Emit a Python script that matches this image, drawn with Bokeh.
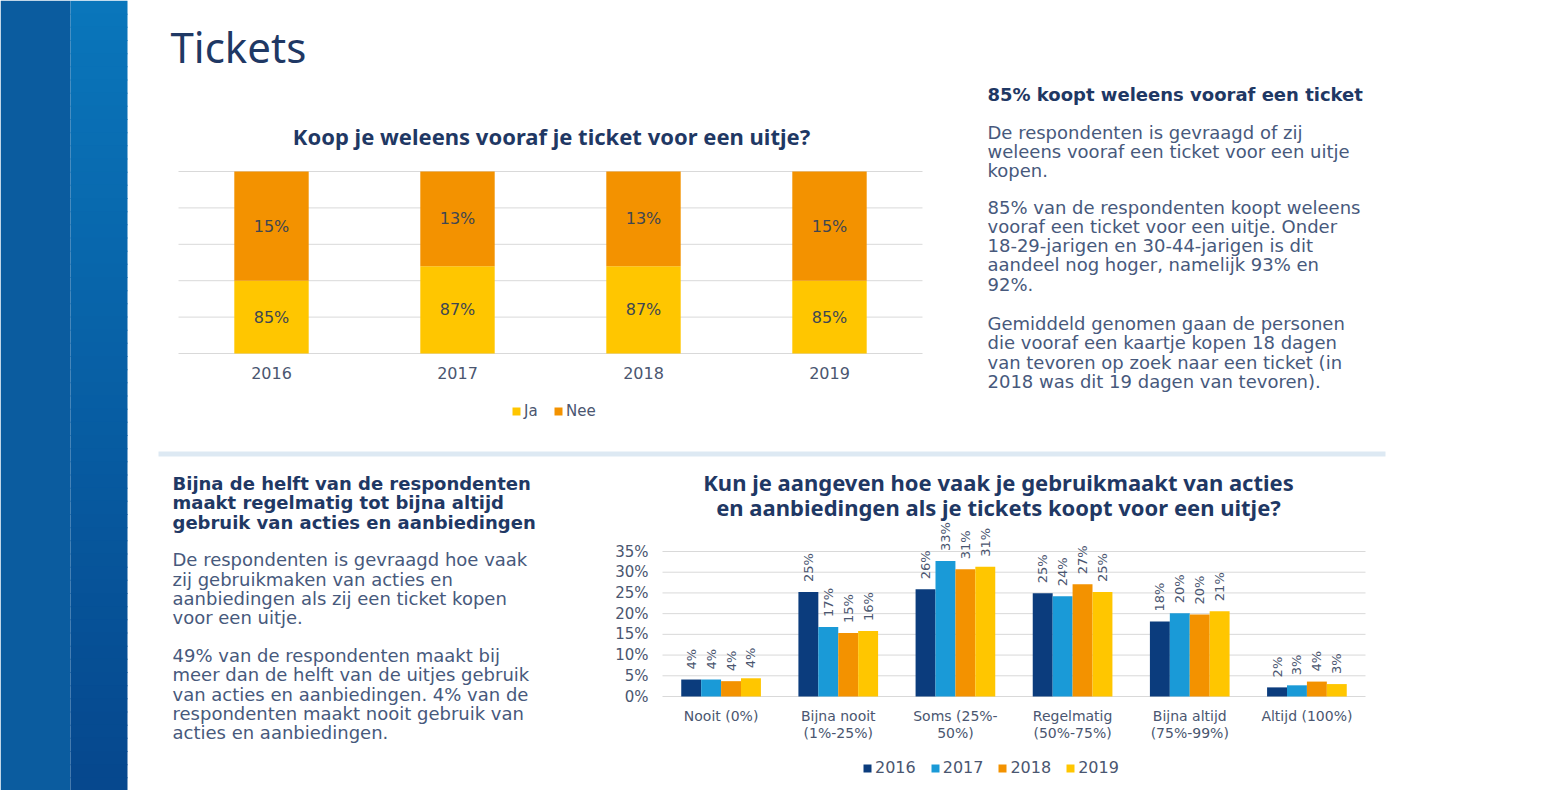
import numpy as np
from bokeh.plotting import figure
from bokeh.models import ColumnDataSource, Range1d, Legend, LegendItem
from bokeh.core.properties import value
from bokeh.embed import file_html
from bokeh.resources import INLINE

# ---------------- data ----------------
years = ["2016", "2017", "2018", "2019"]
ja = [0.85, 0.87, 0.87, 0.85]
nee = [0.15, 0.13, 0.13, 0.15]
top_axis_min, top_axis_max = 0.75, 1.0
top_grid_ticks = [0.75, 0.80, 0.85, 0.90, 0.95, 1.00]

freq_labels = ["Nooit (0%)", "Bijna nooit\n(1%-25%)", "Soms (25%-\n50%)",
               "Regelmatig\n(50%-75%)", "Bijna altijd\n(75%-99%)", "Altijd (100%)"]
share_2016 = [0.041, 0.252, 0.259, 0.249, 0.181, 0.022]
share_2017 = [0.041, 0.168, 0.327, 0.242, 0.201, 0.027]
share_2018 = [0.037, 0.153, 0.307, 0.271, 0.198, 0.036]
share_2019 = [0.044, 0.158, 0.313, 0.252, 0.206, 0.030]
series_names = ["2016", "2017", "2018", "2019"]
bottom_ticks = [0.0, 0.05, 0.10, 0.15, 0.20, 0.25, 0.30, 0.35]

# ---------------- texts ----------------
page_title = "Tickets"
top_chart_title = "Koop je weleens vooraf je ticket voor een uitje?"
bottom_chart_title = ["Kun je aangeven hoe vaak je gebruikmaakt van acties",
                      "en aanbiedingen als je tickets koopt voor een uitje?"]
right_heading = ["85% koopt weleens vooraf een ticket"]
right_paras = [
    ["De respondenten is gevraagd of zij",
     "weleens vooraf een ticket voor een uitje",
     "kopen."],
    ["85% van de respondenten koopt weleens",
     "vooraf een ticket voor een uitje. Onder",
     "18-29-jarigen en 30-44-jarigen is dit",
     "aandeel nog hoger, namelijk 93% en",
     "92%."],
    ["Gemiddeld genomen gaan de personen",
     "die vooraf een kaartje kopen 18 dagen",
     "van tevoren op zoek naar een ticket (in",
     "2018 was dit 19 dagen van tevoren)."],
]
left_heading = ["Bijna de helft van de respondenten",
                "maakt regelmatig tot bijna altijd",
                "gebruik van acties en aanbiedingen"]
left_paras = [
    ["De respondenten is gevraagd hoe vaak",
     "zij gebruikmaken van acties en",
     "aanbiedingen als zij een ticket kopen",
     "voor een uitje."],
    ["49% van de respondenten maakt bij",
     "meer dan de helft van de uitjes gebruik",
     "van acties en aanbiedingen. 4% van de",
     "respondenten maakt nooit gebruik van",
     "acties en aanbiedingen."],
]

# ---------------- style ----------------
NAVY = "#1F3864"
BODY = "#47597C"
TICK = "#4A5670"
GRID = "#D9D9D9"
C_JA = "#FFC600"
C_NEE = "#F39200"
SERIES_COLORS = ["#0B3C7D", "#1A9AD7", "#F39200", "#FFC600"]
BODY_FONT = "DejaVu Sans"
TITLE_FONT = "Noto Sans"
BODY_SIZE = 18
CHART_TITLE_SIZE = "22px"

W, H = 1540, 790


def screen_range(v_a, px_a, v_b, px_b, size, vertical):
    """Range1d so that value v_a falls on pixel px_a and v_b on px_b."""
    k = (px_b - px_a) / (v_b - v_a)

    def v_at(px):
        return v_a + (px - px_a) / k
    if vertical:
        return Range1d(start=v_at(size), end=v_at(0))
    return Range1d(start=v_at(0), end=v_at(size))


p = figure(width=W, height=H, x_range=Range1d(0, W), y_range=Range1d(H, 0),
           x_axis_type=None, y_axis_type=None, min_border=0,
           toolbar_location=None, output_backend="svg")
p.outline_line_color = None
p.background_fill_color = "white"
p.border_fill_color = "white"

n_top = len(years)
n_bot = len(freq_labels)
p.extra_x_ranges = {
    "t_x": screen_range(0, 178, n_top, 922, W, False),
    "b_x": screen_range(0, 662, n_bot, 1365, W, False),
}
p.extra_y_ranges = {
    "t_y": screen_range(top_axis_min, 353, top_axis_max, 171, H, True),
    "b_y": screen_range(bottom_ticks[0], 696, bottom_ticks[-1], 551, H, True),
}
T = dict(x_range_name="t_x", y_range_name="t_y")
B = dict(x_range_name="b_x", y_range_name="b_y")


def put_lines(lines, x, y0, step, size, bold=False, color=BODY, font=BODY_FONT):
    ys = [y0 + i * step for i in range(len(lines))]
    p.text(x=[x] * len(lines), y=ys, text=lines, text_font=value(font),
           text_font_size=f"{size}px", text_font_style="bold" if bold else "normal",
           text_color=color, text_baseline="middle", text_align="left")


# ---------------- left band ----------------
p.quad(left=0, right=70, top=0, bottom=H, color="#0B5C9F", line_color=None)
n_steps = 60
edges = np.linspace(0, H, n_steps + 1)
c0 = np.array([10, 118, 187])
c1 = np.array([6, 72, 142])
grad = ["#%02x%02x%02x" % tuple(int(v) for v in (c0 + (c1 - c0) * t))
        for t in np.linspace(0, 1, n_steps)]
p.quad(left=70, right=127, top=edges[:-1], bottom=edges[1:] + 1,
       color=grad, line_color=None)

# ---------------- page title ----------------
p.text(x=[170], y=[46], text=[page_title], text_font=value(TITLE_FONT),
       text_font_size="42px", text_color=NAVY, text_baseline="middle")

# ---------------- top chart ----------------
p.text(x=[551], y=[135], text=[top_chart_title], text_font=value(TITLE_FONT),
       text_font_size=CHART_TITLE_SIZE, text_font_style="bold", text_color=NAVY,
       text_align="center", text_baseline="middle")
p.segment(x0=[0] * len(top_grid_ticks), x1=[n_top] * len(top_grid_ticks),
          y0=top_grid_ticks, y1=top_grid_ticks, line_color=GRID, line_width=1, **T)
tot = [a + b for a, b in zip(ja, nee)]
src1 = ColumnDataSource(dict(
    x=[i + 0.5 for i in range(n_top)], year=years, ja=ja, tot=tot,
    floor=[top_axis_min] * n_top,
    ja_mid=[(top_axis_min + a) / 2 for a in ja],
    nee_mid=[(a + min(t, top_axis_max)) / 2 for a, t in zip(ja, tot)],
    ja_lab=[f"{round(a * 100)}%" for a in ja],
    nee_lab=[f"{round(b * 100)}%" for b in nee],
))
r_ja = p.vbar(x="x", bottom="floor", top="ja", width=0.4, color=C_JA, line_color=None,
              source=src1, **T)
r_nee = p.vbar(x="x", bottom="ja", top="tot", width=0.4, color=C_NEE, line_color=None,
               source=src1, **T)
for ycol, tcol in (("ja_mid", "ja_lab"), ("nee_mid", "nee_lab")):
    p.text(x="x", y=ycol, text=tcol, source=src1, text_align="center",
           text_baseline="middle", text_font=value(BODY_FONT), text_font_size="16px",
           text_color="#3E4652", **T)
p.text(x="x", y="floor", text="year", source=src1, y_offset=13, text_align="center",
       text_baseline="top", text_font=value(BODY_FONT), text_font_size="16px",
       text_color=TICK, **T)
leg1 = Legend(items=[LegendItem(label="Ja", renderers=[r_ja]),
                     LegendItem(label="Nee", renderers=[r_nee])],
              orientation="horizontal", location=(511, H - 420))
leg1.label_text_font = BODY_FONT
leg1.label_text_font_size = "15px"
leg1.label_text_color = TICK
leg1.glyph_width = 10
leg1.glyph_height = 10
leg1.label_standoff = 3
leg1.spacing = 9
leg1.padding = 0
leg1.margin = 0
leg1.border_line_color = None
leg1.background_fill_alpha = 0
p.add_layout(leg1)

# ---------------- right text ----------------
put_lines(right_heading, 987, 94, 19.3, BODY_SIZE, bold=True, color=NAVY)
for lines, y0 in zip(right_paras, [131.5, 206.5, 323]):
    put_lines(lines, 987, y0, 19.3, BODY_SIZE)

# ---------------- separator ----------------
p.quad(left=158, right=1385, top=451, bottom=456, color="#DDE9F3", line_color=None)

# ---------------- bottom-left text ----------------
put_lines(left_heading, 172, 482.7, 19.5, BODY_SIZE, bold=True, color=NAVY)
for lines, y0 in zip(left_paras, [559.3, 655]):
    put_lines(lines, 172, y0, 19.3, BODY_SIZE)

# ---------------- bottom chart ----------------
for i, line in enumerate(bottom_chart_title):
    p.text(x=[998], y=[481 + 25 * i], text=[line], text_font=value(TITLE_FONT),
           text_font_size=CHART_TITLE_SIZE, text_font_style="bold", text_color=NAVY,
           text_align="center", text_baseline="middle")
p.segment(x0=[0] * len(bottom_ticks), x1=[n_bot] * len(bottom_ticks),
          y0=bottom_ticks, y1=bottom_ticks, line_color=GRID, line_width=1, **B)
p.text(x=[0] * len(bottom_ticks), y=bottom_ticks,
       text=[f"{round(t * 100)}%" for t in bottom_ticks], x_offset=-14,
       text_align="right", text_baseline="middle", text_font=value(BODY_FONT),
       text_font_size="15px", text_color=TICK, **B)
cat_x = [i + 0.5 for i in range(n_bot)]
first_lines = [lab.split("\n")[0] for lab in freq_labels]
second_lines = [lab.split("\n")[1] if "\n" in lab else "" for lab in freq_labels]
for k, lines in enumerate((first_lines, second_lines)):
    p.text(x=cat_x, y=[bottom_ticks[0]] * n_bot, text=lines, y_offset=11 + 17 * k,
           text_align="center", text_baseline="top", text_font=value(BODY_FONT),
           text_font_size="14px", text_color=TICK, **B)

offsets = [-0.255, -0.085, 0.085, 0.255]
all_series = [share_2016, share_2017, share_2018, share_2019]
items = []
for name, vals, col, off in zip(series_names, all_series, SERIES_COLORS, offsets):
    src = ColumnDataSource(dict(x=[c + off for c in cat_x], v=vals,
                                base=[0.0] * n_bot,
                                lab=[f"{round(v * 100)}%" for v in vals]))
    r = p.vbar(x="x", bottom="base", top="v", width=0.17, color=col, line_color=None,
               source=src, **B)
    items.append(LegendItem(label=name, renderers=[r]))
    p.text(x="x", y="v", text="lab", source=src, angle=np.pi / 2, text_align="left",
           text_baseline="middle", y_offset=-10, text_font=value(BODY_FONT),
           text_font_size="13px", text_color=TICK, **B)

leg2 = Legend(items=items, orientation="horizontal", location=(862, H - 777))
leg2.label_text_font = BODY_FONT
leg2.label_text_font_size = "16px"
leg2.label_text_color = TICK
leg2.glyph_width = 10
leg2.glyph_height = 10
leg2.label_standoff = 3
leg2.spacing = 14
leg2.padding = 0
leg2.margin = 0
leg2.border_line_color = None
leg2.background_fill_alpha = 0
p.add_layout(leg2)

open("out.html", "w").write(file_html(p, INLINE))
